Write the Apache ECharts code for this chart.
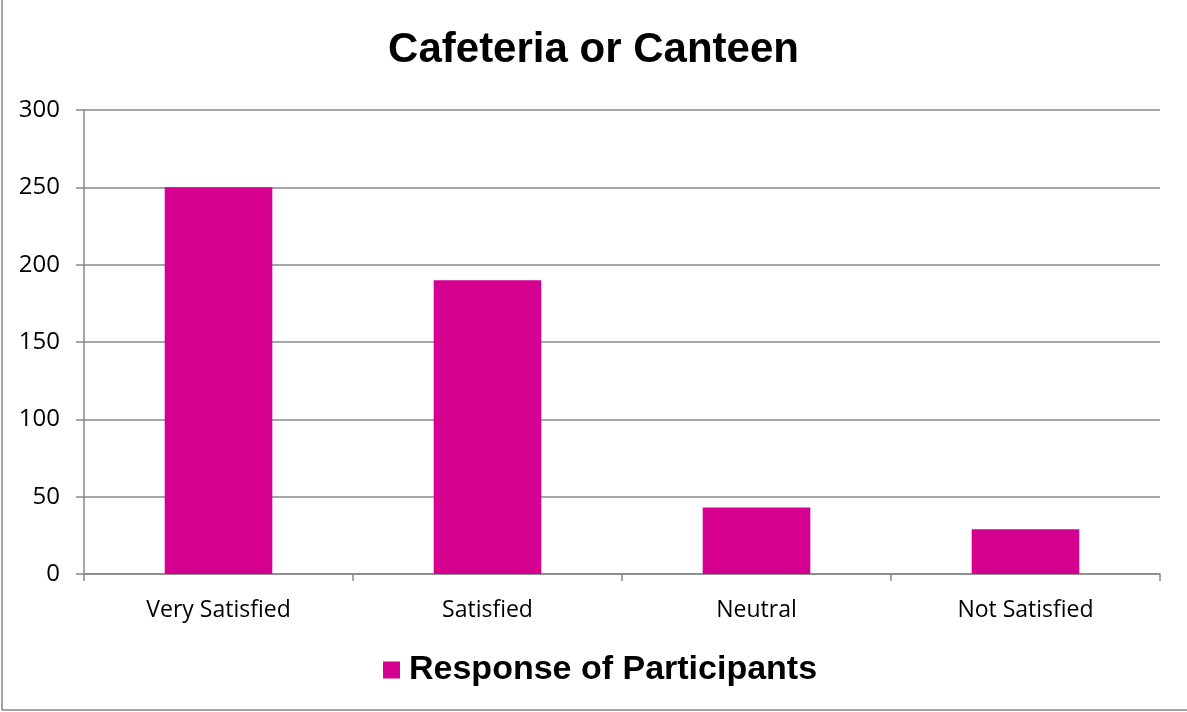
<!DOCTYPE html>
<html>
<head>
<meta charset="utf-8">
<script src="https://cdn.jsdelivr.net/npm/echarts@6/dist/echarts.min.js"></script>
<style>
  html, body { margin: 0; padding: 0; background: #fff; }
  #chart { width: 1187px; height: 712px; }
</style>
</head>
<body>
<div id="chart"></div>
<script>
var categories = ['Very Satisfied', 'Satisfied', 'Neutral', 'Not Satisfied']
var responses = [250, 190, 43, 29]
var y_ticks = [0, 50, 100, 150, 200, 250, 300]

var chart = echarts.init(document.getElementById('chart'))

var option = {
    animation: false,
    title: {
        text: 'Cafeteria or Canteen',
        left: 'center',
        top: 24,
        textStyle: {
            fontFamily: 'Liberation Sans, Arial',
            fontSize: 42,
            fontWeight: 'bold',
            color: '#000'
        }
    },
    legend: {
        bottom: 20,
        left: 378,
        itemWidth: 17,
        itemHeight: 17,
        itemGap: 8,
        icon: 'rect',
        textStyle: {
            fontFamily: 'Liberation Sans, Arial',
            fontSize: 34,
            fontWeight: 'bold',
            color: '#000',
            padding: [0, 0, 0, 4]
        },
        data: ['Response of Participants']
    },
    graphic: [
        {
            type: 'rect',
            shape: { x: 2, y: -10, width: 1200, height: 720 },
            style: { fill: 'none', stroke: '#888', lineWidth: 1.5 },
            silent: true
        }
    ],
    grid: {
        left: 84,
        right: 27,
        top: 110,
        bottom: 138
    },
    xAxis: {
        type: 'category',
        data: categories,
        axisLine: { lineStyle: { color: '#888', width: 1.5 } },
        axisTick: { show: true, length: 7, lineStyle: { color: '#888', width: 1.5 } },
        axisLabel: {
            margin: 25,
            fontFamily: 'Open Sans',
            fontSize: 23,
            color: '#000'
        }
    },
    yAxis: {
        type: 'value',
        min: y_ticks[0],
        max: y_ticks[y_ticks.length - 1],
        interval: 50,
        axisLine: { show: true, lineStyle: { color: '#888', width: 1.5 } },
        axisTick: { show: true, length: 8, lineStyle: { color: '#888', width: 1.5 } },
        splitLine: { lineStyle: { color: '#888', width: 1.5 } },
        axisLabel: {
            margin: 24,
            fontFamily: 'Open Sans',
            fontSize: 24,
            color: '#000'
        }
    },
    series: [
        {
            name: 'Response of Participants',
            type: 'bar',
            color: '#D5008F',
            barWidth: '40%',
            data: responses
        }
    ]
}
chart.setOption(option)
</script>
</body>
</html>
